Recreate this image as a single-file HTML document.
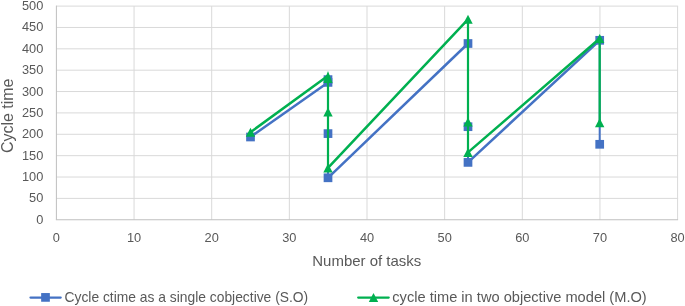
<!DOCTYPE html>
<html><head><meta charset="utf-8"><style>
html,body{margin:0;padding:0;background:#fff;}
body{width:685px;height:306px;overflow:hidden;}
svg{display:block;font-family:"Liberation Sans",sans-serif;will-change:transform;}
</style></head><body>
<svg width="685" height="306" viewBox="0 0 685 306">
<rect width="685" height="306" fill="#fff"/>
<line x1="56.40" y1="198.38" x2="678.10" y2="198.38" stroke="#d9d9d9" stroke-width="1"/>
<line x1="56.40" y1="177.02" x2="678.10" y2="177.02" stroke="#d9d9d9" stroke-width="1"/>
<line x1="56.40" y1="155.66" x2="678.10" y2="155.66" stroke="#d9d9d9" stroke-width="1"/>
<line x1="56.40" y1="134.29" x2="678.10" y2="134.29" stroke="#d9d9d9" stroke-width="1"/>
<line x1="56.40" y1="112.92" x2="678.10" y2="112.92" stroke="#d9d9d9" stroke-width="1"/>
<line x1="56.40" y1="91.56" x2="678.10" y2="91.56" stroke="#d9d9d9" stroke-width="1"/>
<line x1="56.40" y1="70.19" x2="678.10" y2="70.19" stroke="#d9d9d9" stroke-width="1"/>
<line x1="56.40" y1="48.83" x2="678.10" y2="48.83" stroke="#d9d9d9" stroke-width="1"/>
<line x1="56.40" y1="27.47" x2="678.10" y2="27.47" stroke="#d9d9d9" stroke-width="1"/>
<line x1="56.40" y1="6.10" x2="678.10" y2="6.10" stroke="#d9d9d9" stroke-width="1"/>
<line x1="134.05" y1="6.10" x2="134.05" y2="219.75" stroke="#d9d9d9" stroke-width="1"/>
<line x1="211.70" y1="6.10" x2="211.70" y2="219.75" stroke="#d9d9d9" stroke-width="1"/>
<line x1="289.35" y1="6.10" x2="289.35" y2="219.75" stroke="#d9d9d9" stroke-width="1"/>
<line x1="367.00" y1="6.10" x2="367.00" y2="219.75" stroke="#d9d9d9" stroke-width="1"/>
<line x1="444.65" y1="6.10" x2="444.65" y2="219.75" stroke="#d9d9d9" stroke-width="1"/>
<line x1="522.30" y1="6.10" x2="522.30" y2="219.75" stroke="#d9d9d9" stroke-width="1"/>
<line x1="599.95" y1="6.10" x2="599.95" y2="219.75" stroke="#d9d9d9" stroke-width="1"/>
<line x1="677.60" y1="6.10" x2="677.60" y2="219.75" stroke="#d9d9d9" stroke-width="1"/>
<line x1="56.40" y1="5.60" x2="56.40" y2="219.75" stroke="#bfbfbf" stroke-width="1"/>
<line x1="55.90" y1="219.75" x2="678.10" y2="219.75" stroke="#bfbfbf" stroke-width="1"/>
<line x1="250.50" y1="137.00" x2="328.00" y2="82.40" stroke="#4472C4" stroke-width="2.5" stroke-linecap="round"/>
<line x1="328.00" y1="82.40" x2="328.00" y2="79.60" stroke="#4472C4" stroke-width="2.0" stroke-linecap="round"/>
<line x1="328.00" y1="79.60" x2="328.00" y2="133.60" stroke="#4472C4" stroke-width="2.0" stroke-linecap="round"/>
<line x1="328.00" y1="133.60" x2="328.00" y2="177.80" stroke="#4472C4" stroke-width="2.0" stroke-linecap="round"/>
<line x1="328.00" y1="177.80" x2="468.00" y2="43.50" stroke="#4472C4" stroke-width="2.5" stroke-linecap="round"/>
<line x1="468.00" y1="43.50" x2="468.00" y2="126.70" stroke="#4472C4" stroke-width="2.0" stroke-linecap="round"/>
<line x1="468.00" y1="126.70" x2="468.00" y2="162.40" stroke="#4472C4" stroke-width="2.0" stroke-linecap="round"/>
<line x1="468.00" y1="162.40" x2="599.70" y2="40.30" stroke="#4472C4" stroke-width="2.5" stroke-linecap="round"/>
<line x1="599.70" y1="40.30" x2="599.70" y2="144.30" stroke="#4472C4" stroke-width="2.0" stroke-linecap="round"/>
<rect x="246.15" y="132.65" width="8.70" height="8.70" fill="#4472C4"/>
<rect x="323.65" y="78.05" width="8.70" height="8.70" fill="#4472C4"/>
<rect x="323.65" y="75.25" width="8.70" height="8.70" fill="#4472C4"/>
<rect x="323.65" y="129.25" width="8.70" height="8.70" fill="#4472C4"/>
<rect x="323.65" y="173.45" width="8.70" height="8.70" fill="#4472C4"/>
<rect x="463.65" y="39.15" width="8.70" height="8.70" fill="#4472C4"/>
<rect x="463.65" y="122.35" width="8.70" height="8.70" fill="#4472C4"/>
<rect x="463.65" y="158.05" width="8.70" height="8.70" fill="#4472C4"/>
<rect x="595.35" y="35.95" width="8.70" height="8.70" fill="#4472C4"/>
<rect x="595.35" y="139.95" width="8.70" height="8.70" fill="#4472C4"/>
<line x1="250.50" y1="132.20" x2="328.00" y2="75.70" stroke="#00B050" stroke-width="2.5" stroke-linecap="round"/>
<line x1="328.00" y1="75.70" x2="328.00" y2="78.60" stroke="#00B050" stroke-width="2.2" stroke-linecap="round"/>
<line x1="328.00" y1="78.60" x2="328.00" y2="112.10" stroke="#00B050" stroke-width="2.2" stroke-linecap="round"/>
<line x1="328.00" y1="112.10" x2="328.00" y2="167.90" stroke="#00B050" stroke-width="2.2" stroke-linecap="round"/>
<line x1="328.00" y1="167.90" x2="468.00" y2="19.30" stroke="#00B050" stroke-width="2.5" stroke-linecap="round"/>
<line x1="468.00" y1="19.30" x2="468.00" y2="122.00" stroke="#00B050" stroke-width="2.2" stroke-linecap="round"/>
<line x1="468.00" y1="122.00" x2="468.00" y2="152.40" stroke="#00B050" stroke-width="2.2" stroke-linecap="round"/>
<line x1="468.00" y1="152.40" x2="599.70" y2="38.50" stroke="#00B050" stroke-width="2.5" stroke-linecap="round"/>
<line x1="599.70" y1="38.50" x2="599.70" y2="122.80" stroke="#00B050" stroke-width="2.2" stroke-linecap="round"/>
<polygon points="250.50,127.70 255.20,136.70 245.80,136.70" fill="#00B050"/>
<polygon points="328.00,107.60 332.70,116.60 323.30,116.60" fill="#00B050"/>
<polygon points="328.00,163.40 332.70,172.40 323.30,172.40" fill="#00B050"/>
<polygon points="468.00,14.80 472.70,23.80 463.30,23.80" fill="#00B050"/>
<polygon points="468.00,117.50 472.70,126.50 463.30,126.50" fill="#00B050"/>
<polygon points="468.00,147.90 472.70,156.90 463.30,156.90" fill="#00B050"/>
<polygon points="599.70,34.00 604.40,43.00 595.00,43.00" fill="#00B050"/>
<polygon points="599.70,118.30 604.40,127.30 595.00,127.30" fill="#00B050"/>
<polygon points="328.00,70.9 332.60,83.1 323.40,83.1" fill="#00B050"/>
<text x="43.3" y="223.75" text-anchor="end" font-size="12.8" fill="#595959">0</text>
<text x="43.3" y="202.38" text-anchor="end" font-size="12.8" fill="#595959">50</text>
<text x="43.3" y="181.02" text-anchor="end" font-size="12.8" fill="#595959">100</text>
<text x="43.3" y="159.66" text-anchor="end" font-size="12.8" fill="#595959">150</text>
<text x="43.3" y="138.29" text-anchor="end" font-size="12.8" fill="#595959">200</text>
<text x="43.3" y="116.92" text-anchor="end" font-size="12.8" fill="#595959">250</text>
<text x="43.3" y="95.56" text-anchor="end" font-size="12.8" fill="#595959">300</text>
<text x="43.3" y="74.19" text-anchor="end" font-size="12.8" fill="#595959">350</text>
<text x="43.3" y="52.83" text-anchor="end" font-size="12.8" fill="#595959">400</text>
<text x="43.3" y="31.47" text-anchor="end" font-size="12.8" fill="#595959">450</text>
<text x="43.3" y="10.10" text-anchor="end" font-size="12.8" fill="#595959">500</text>
<text x="56.40" y="242.0" text-anchor="middle" font-size="12.8" fill="#595959">0</text>
<text x="134.05" y="242.0" text-anchor="middle" font-size="12.8" fill="#595959">10</text>
<text x="211.70" y="242.0" text-anchor="middle" font-size="12.8" fill="#595959">20</text>
<text x="289.35" y="242.0" text-anchor="middle" font-size="12.8" fill="#595959">30</text>
<text x="367.00" y="242.0" text-anchor="middle" font-size="12.8" fill="#595959">40</text>
<text x="444.65" y="242.0" text-anchor="middle" font-size="12.8" fill="#595959">50</text>
<text x="522.30" y="242.0" text-anchor="middle" font-size="12.8" fill="#595959">60</text>
<text x="599.95" y="242.0" text-anchor="middle" font-size="12.8" fill="#595959">70</text>
<text x="677.60" y="242.0" text-anchor="middle" font-size="12.8" fill="#595959">80</text>
<text x="366.8" y="266.2" text-anchor="middle" font-size="15" fill="#595959" textLength="109" lengthAdjust="spacingAndGlyphs">Number of tasks</text>
<text transform="translate(13.1,115.8) rotate(-90)" x="0" y="0" text-anchor="middle" font-size="16.3" fill="#595959" textLength="74.5" lengthAdjust="spacingAndGlyphs">Cycle time</text>
<line x1="30.5" y1="297.6" x2="60.7" y2="297.6" stroke="#4472C4" stroke-width="2.3" stroke-linecap="round"/>
<rect x="41.15" y="293.05" width="8.70" height="8.70" fill="#4472C4"/>
<text x="64.5" y="301.5" font-size="14.5" fill="#595959" textLength="243.7" lengthAdjust="spacingAndGlyphs">Cycle ctime as a single cobjective (S.O)</text>
<line x1="358.2" y1="297.6" x2="388.7" y2="297.6" stroke="#00B050" stroke-width="2.3" stroke-linecap="round"/>
<polygon points="373.50,292.90 378.20,301.90 368.80,301.90" fill="#00B050"/>
<text x="392.3" y="301.5" font-size="14.5" fill="#595959" textLength="254.4" lengthAdjust="spacingAndGlyphs">cycle time in two objective model (M.O)</text>
</svg>
</body></html>
